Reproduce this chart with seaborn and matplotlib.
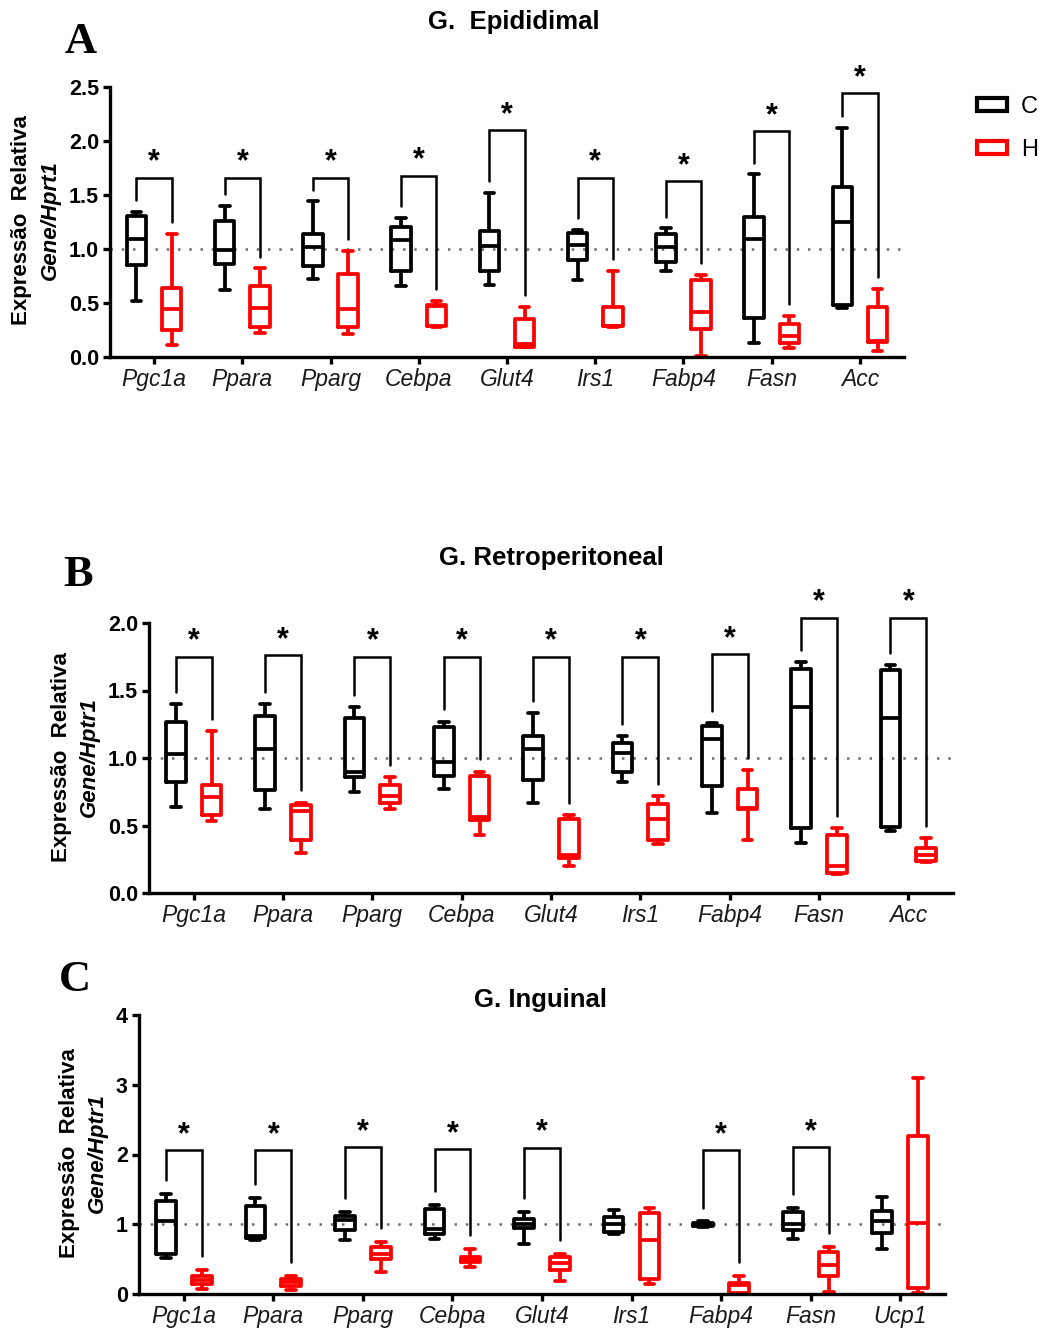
import matplotlib
matplotlib.use("Agg")
import matplotlib.pyplot as plt
import seaborn as sns
import pandas as pd
from matplotlib.patches import Patch

# five-number summaries per gene: [min, q1, median, q3, max]
genes_a = ['Pgc1a', 'Ppara', 'Pparg', 'Cebpa', 'Glut4', 'Irs1', 'Fabp4', 'Fasn', 'Acc']
epi_c = [[0.52, 0.85, 1.09, 1.31, 1.34],
         [0.62, 0.86, 0.99, 1.26, 1.40],
         [0.72, 0.84, 1.02, 1.14, 1.44],
         [0.66, 0.80, 1.08, 1.20, 1.29],
         [0.67, 0.80, 1.03, 1.17, 1.52],
         [0.71, 0.90, 1.04, 1.15, 1.18],
         [0.80, 0.88, 1.02, 1.14, 1.19],
         [0.13, 0.36, 1.09, 1.30, 1.69],
         [0.45, 0.48, 1.25, 1.57, 2.12]]
epi_h = [[0.11, 0.25, 0.44, 0.64, 1.14],
         [0.22, 0.28, 0.45, 0.66, 0.82],
         [0.21, 0.28, 0.44, 0.77, 0.98],
         [0.28, 0.29, 0.47, 0.48, 0.52],
         [0.09, 0.09, 0.12, 0.35, 0.46],
         [0.28, 0.29, 0.29, 0.46, 0.80],
         [0.01, 0.26, 0.42, 0.71, 0.76],
         [0.08, 0.13, 0.19, 0.31, 0.38],
         [0.06, 0.14, 0.15, 0.46, 0.63]]
epi_sig = [1.66, 1.66, 1.66, 1.68, 2.10, 1.66, 1.63, 2.09, 2.44]

genes_b = ['Pgc1a', 'Ppara', 'Pparg', 'Cebpa', 'Glut4', 'Irs1', 'Fabp4', 'Fasn', 'Acc']
retro_c = [[0.64, 0.82, 1.03, 1.27, 1.40],
           [0.62, 0.76, 1.07, 1.31, 1.40],
           [0.75, 0.86, 0.90, 1.30, 1.38],
           [0.77, 0.87, 0.97, 1.23, 1.27],
           [0.67, 0.84, 1.07, 1.16, 1.33],
           [0.82, 0.90, 1.04, 1.11, 1.16],
           [0.59, 0.79, 1.14, 1.24, 1.26],
           [0.37, 0.48, 1.38, 1.66, 1.71],
           [0.46, 0.49, 1.30, 1.65, 1.69]]
retro_h = [[0.53, 0.58, 0.71, 0.80, 1.20],
           [0.30, 0.39, 0.61, 0.65, 0.67],
           [0.62, 0.67, 0.72, 0.80, 0.86],
           [0.43, 0.54, 0.56, 0.87, 0.90],
           [0.20, 0.26, 0.28, 0.55, 0.58],
           [0.36, 0.39, 0.55, 0.66, 0.72],
           [0.39, 0.62, 0.63, 0.77, 0.91],
           [0.14, 0.15, 0.20, 0.43, 0.48],
           [0.23, 0.24, 0.28, 0.33, 0.41]]
retro_sig = [1.75, 1.76, 1.75, 1.75, 1.75, 1.75, 1.77, 2.04, 2.04]

genes_c = ['Pgc1a', 'Ppara', 'Pparg', 'Cebpa', 'Glut4', 'Irs1', 'Fabp4', 'Fasn', 'Ucp1']
ing_c = [[0.51, 0.57, 1.05, 1.34, 1.44],
         [0.78, 0.81, 0.83, 1.26, 1.37],
         [0.77, 0.92, 1.06, 1.12, 1.17],
         [0.79, 0.86, 0.93, 1.22, 1.28],
         [0.72, 0.94, 1.00, 1.08, 1.17],
         [0.86, 0.89, 1.00, 1.10, 1.21],
         [0.96, 0.97, 1.00, 1.02, 1.04],
         [0.79, 0.92, 1.01, 1.17, 1.23],
         [0.65, 0.87, 1.04, 1.19, 1.39]]
ing_h = [[0.07, 0.14, 0.20, 0.26, 0.35],
         [0.06, 0.11, 0.17, 0.22, 0.26],
         [0.32, 0.50, 0.58, 0.68, 0.74],
         [0.39, 0.46, 0.49, 0.53, 0.65],
         [0.18, 0.35, 0.44, 0.53, 0.58],
         [0.14, 0.21, 0.77, 1.16, 1.24],
         [0.00, 0.01, 0.13, 0.16, 0.26],
         [0.03, 0.26, 0.41, 0.60, 0.68],
         [0.02, 0.08, 1.02, 2.27, 3.09]]
ing_sig = [2.06, 2.06, 2.11, 2.08, 2.10, None, 2.06, 2.11, None]

groups = ['C', 'H']
colors = {'C': 'black', 'H': 'red'}


def make_df(genes, c_vals, h_vals):
    rows = []
    for g, cv, hv in zip(genes, c_vals, h_vals):
        for v in cv:
            rows.append([g, 'C', v])
        for v in hv:
            rows.append([g, 'H', v])
    return pd.DataFrame(rows, columns=['gene', 'group', 'value'])


def draw_panel(ax, genes, c_vals, h_vals, sig, ytop, ystep, gap, fmt):
    df = make_df(genes, c_vals, h_vals)
    ax.axhline(1.0, color='#6e6e6e', lw=1.8, ls=(0, (1, 3.5)), zorder=0)
    sns.boxplot(data=df, x='gene', y='value', hue='group', order=genes,
                hue_order=groups, palette=colors, fill=False, whis=(0, 100),
                width=0.8, gap=0.45, linewidth=2.7, legend=False, ax=ax)
    for i, top in enumerate(sig):
        if top is None:
            continue
        xc, xh = i - 0.2, i + 0.2
        yc = c_vals[i][4] + gap
        yh = h_vals[i][4] + gap
        ax.plot([xc, xc, xh, xh], [yc, top, top, yh], color='black', lw=1.8,
                solid_joinstyle='miter', clip_on=False)
        ax.annotate('*', (i, top), xytext=(0, 0), textcoords='offset points',
                    ha='center', va='bottom', fontsize=22, fontweight='bold',
                    annotation_clip=False)
    ax.set_xlim(-0.5, len(genes) - 0.5)
    ax.set_ylim(0, ytop)
    ticks = [k * ystep for k in range(int(round(ytop / ystep)) + 1)]
    ax.set_yticks(ticks)
    ax.set_yticklabels([fmt.format(t) for t in ticks], fontsize=15.5, fontweight='bold')
    ax.set_xticks(range(len(genes)))
    ax.set_xticklabels(genes, fontsize=16.5, style='italic', color='#1a1a1a')
    ax.set_xlabel('')
    ax.set_ylabel('')
    sns.despine(ax=ax)
    for s in ['left', 'bottom']:
        ax.spines[s].set_linewidth(2.4)
        ax.spines[s].set_color('black')
    ax.tick_params(width=2.4, length=5, pad=3, color='black')


sns.set_style('ticks')
plt.rcParams['font.family'] = ['Liberation Sans', 'DejaVu Sans']
plt.rcParams['text.color'] = 'black'
plt.rcParams['xtick.labelcolor'] = 'black'
plt.rcParams['ytick.labelcolor'] = 'black'

fig = plt.figure(figsize=(10.42, 13.32), dpi=100)
W, H = 1042, 1332


def axes_px(left, top, right, bottom):
    return fig.add_axes([left / W, 1 - bottom / H, (right - left) / W, (bottom - top) / H])


ax_a = axes_px(110, 87, 904, 357)
ax_b = axes_px(149, 623, 953, 893)
ax_c = axes_px(139, 1015, 945, 1294)

draw_panel(ax_a, genes_a, epi_c, epi_h, epi_sig, 2.5, 0.5, 0.11, '{:.1f}')
draw_panel(ax_b, genes_b, retro_c, retro_h, retro_sig, 2.0, 0.5, 0.09, '{:.1f}')
draw_panel(ax_c, genes_c, ing_c, ing_h, ing_sig, 4, 1, 0.2, '{:.0f}')

# titles and panel letters
fig.text(514 / W, 1 - 22 / H, 'G.  Epididimal', ha='center', va='center', fontsize=18.5, fontweight='bold')
fig.text(551 / W, 1 - 558 / H, 'G. Retroperitoneal', ha='center', va='center', fontsize=18.5, fontweight='bold')
fig.text(541 / W, 1 - 1000 / H, 'G. Inguinal', ha='center', va='center', fontsize=18.5, fontweight='bold')
for lt, xx, yy in [('A', 81, 42), ('B', 78, 575), ('C', 75, 980)]:
    fig.text(xx / W, 1 - yy / H, lt, ha='center', va='center', fontsize=32,
             fontweight='bold', family='Liberation Serif')

# y labels
for x1, x2, yy, gene_lbl in [(22, 50, 220, 'Gene/Hprt1'), (62, 89, 757, 'Gene/Hptr1'),
                             (70, 97, 1153, 'Gene/Hptr1')]:
    fig.text(x1 / W, 1 - yy / H, 'Expressão  Relativa', rotation=90, ha='center',
             va='center', fontsize=16, fontweight='bold')
    fig.text(x2 / W, 1 - yy / H, gene_lbl, rotation=90, ha='center', va='center',
             fontsize=16, fontweight='bold', style='italic')

handles = [Patch(facecolor='none', edgecolor=colors[g], lw=3, label=g) for g in groups]
fig.legend(handles=handles, loc='upper left', bbox_to_anchor=(977 / W, 1 - 96 / H),
           frameon=False, fontsize=17, handlelength=1.25, handleheight=0.5,
           handletextpad=0.62, labelspacing=0.88, borderpad=0, borderaxespad=0)

fig.savefig('out.png', dpi=100)
